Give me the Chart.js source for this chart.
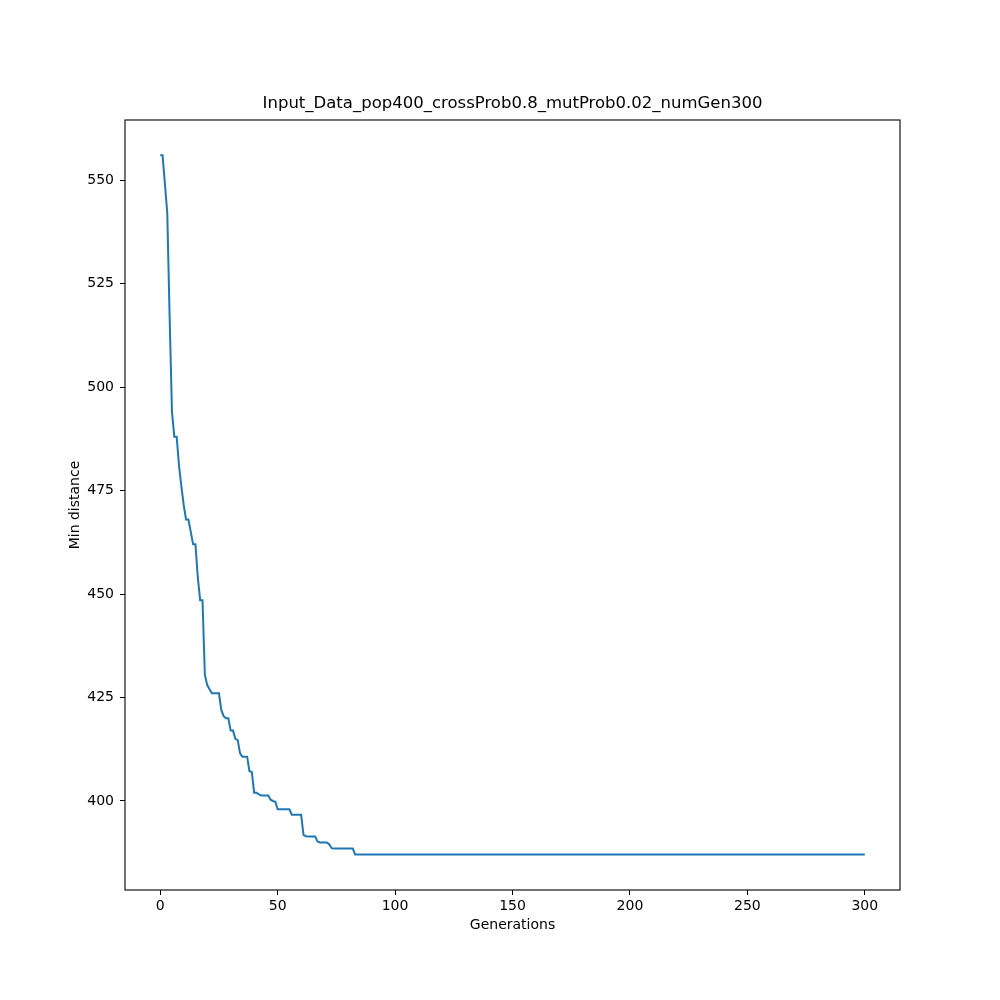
<!DOCTYPE html>
<html>
<head>
<meta charset="utf-8">
<script src="https://cdn.jsdelivr.net/npm/chart.js@4/dist/chart.umd.min.js"></script>
<style>
  html, body { margin: 0; padding: 0; background: #fff; }
  canvas { display: block; }
</style>
</head>
<body>
<canvas id="chart" width="1000" height="1000"></canvas>
<script>
// min distance per generation (index = generation 0..300)
const minDistance = [
  556, 556, 549, 542, 517, 494, 488, 488, 481, 476,
  471.5, 468, 468, 465, 462, 462, 454, 448.5, 448.5, 430.5,
  428, 427, 426, 426, 426, 426, 422, 420.5, 420, 420,
  417, 417, 415, 414.7, 411.5, 410.7, 410.7, 410.7, 407.2, 407,
  402, 402, 401.6, 401.3, 401.3, 401.3, 401.3, 400.3, 400, 399.8,
  398, 398, 398, 398, 398, 398, 396.7, 396.7, 396.7, 396.7,
  396.7, 391.8, 391.5, 391.4, 391.4, 391.4, 391.4, 390.2, 390, 390,
  390, 390, 389.5, 388.6, 388.5, 388.5, 388.5, 388.5, 388.5, 388.5,
  388.5, 388.5, 388.5,
  387.1, 387.1, 387.1, 387.1, 387.1, 387.1, 387.1, 387.1, 387.1, 387.1, 387.1, 387.1, 387.1, 387.1, 387.1, 387.1, 387.1,
  387.1, 387.1, 387.1, 387.1, 387.1, 387.1, 387.1, 387.1, 387.1, 387.1, 387.1, 387.1, 387.1, 387.1, 387.1, 387.1, 387.1, 387.1, 387.1, 387.1,
  387.1, 387.1, 387.1, 387.1, 387.1, 387.1, 387.1, 387.1, 387.1, 387.1, 387.1, 387.1, 387.1, 387.1, 387.1, 387.1, 387.1, 387.1, 387.1, 387.1,
  387.1, 387.1, 387.1, 387.1, 387.1, 387.1, 387.1, 387.1, 387.1, 387.1, 387.1, 387.1, 387.1, 387.1, 387.1, 387.1, 387.1, 387.1, 387.1, 387.1,
  387.1, 387.1, 387.1, 387.1, 387.1, 387.1, 387.1, 387.1, 387.1, 387.1, 387.1, 387.1, 387.1, 387.1, 387.1, 387.1, 387.1, 387.1, 387.1, 387.1,
  387.1, 387.1, 387.1, 387.1, 387.1, 387.1, 387.1, 387.1, 387.1, 387.1, 387.1, 387.1, 387.1, 387.1, 387.1, 387.1, 387.1, 387.1, 387.1, 387.1,
  387.1, 387.1, 387.1, 387.1, 387.1, 387.1, 387.1, 387.1, 387.1, 387.1, 387.1, 387.1, 387.1, 387.1, 387.1, 387.1, 387.1, 387.1, 387.1, 387.1,
  387.1, 387.1, 387.1, 387.1, 387.1, 387.1, 387.1, 387.1, 387.1, 387.1, 387.1, 387.1, 387.1, 387.1, 387.1, 387.1, 387.1, 387.1, 387.1, 387.1,
  387.1, 387.1, 387.1, 387.1, 387.1, 387.1, 387.1, 387.1, 387.1, 387.1, 387.1, 387.1, 387.1, 387.1, 387.1, 387.1, 387.1, 387.1, 387.1, 387.1,
  387.1, 387.1, 387.1, 387.1, 387.1, 387.1, 387.1, 387.1, 387.1, 387.1, 387.1, 387.1, 387.1, 387.1, 387.1, 387.1, 387.1, 387.1, 387.1, 387.1,
  387.1, 387.1, 387.1, 387.1, 387.1, 387.1, 387.1, 387.1, 387.1, 387.1, 387.1, 387.1, 387.1, 387.1, 387.1, 387.1, 387.1, 387.1, 387.1, 387.1,
  387.1
];
const xTicks = [0, 50, 100, 150, 200, 250, 300];
const yTicks = [400, 425, 450, 475, 500, 525, 550];
const chartTitle = "Input_Data_pop400_crossProb0.8_mutProb0.02_numGen300";

const FONT = "'DejaVu Sans', sans-serif";

// all four spines and the title, drawn like matplotlib does
const framePlugin = {
  id: "frame",
  afterDraw(chart) {
    const { ctx, chartArea: a } = chart;
    ctx.save();
    ctx.strokeStyle = "#000";
    ctx.lineWidth = 1.1;
    ctx.strokeRect(a.left, a.top, a.right - a.left, a.bottom - a.top);
    ctx.fillStyle = "#000";
    ctx.font = "16.5px " + FONT;
    ctx.textAlign = "center";
    ctx.textBaseline = "alphabetic";
    ctx.fillText(chartTitle, (a.left + a.right) / 2, a.top - 12);
    ctx.restore();
  }
};

new Chart(document.getElementById("chart"), {
  type: "line",
  data: {
    datasets: [{
      data: minDistance.map((v, i) => ({ x: i, y: v })),
      borderColor: "#1f77b4",
      borderWidth: 2,
      pointRadius: 0,
      tension: 0,
      fill: false
    }]
  },
  options: {
    responsive: false,
    animation: false,
    layout: { padding: { top: 120, right: 100, left: 0, bottom: 0 } },
    plugins: { legend: { display: false }, tooltip: { enabled: false } },
    scales: {
      x: {
        type: "linear",
        min: -15,
        max: 315,
        afterBuildTicks: s => { s.ticks = xTicks.map(v => ({ value: v })); },
        afterFit: s => { s.height = 110; },
        ticks: { color: "#000", font: { size: 14, family: FONT }, padding: 3, maxRotation: 0, autoSkip: false },
        grid: { drawOnChartArea: false, drawTicks: true, tickLength: 5, color: "#000" },
        border: { display: false },
        title: { display: true, text: "Generations", color: "#000", font: { size: 14, family: FONT }, padding: { top: 0, bottom: 66.6 } }
      },
      y: {
        type: "linear",
        min: 378.5,
        max: 564.5,
        afterBuildTicks: s => { s.ticks = yTicks.map(v => ({ value: v })); },
        afterFit: s => { s.width = 125; },
        ticks: { color: "#000", font: { size: 14, family: FONT }, padding: 6 },
        grid: { drawOnChartArea: false, drawTicks: true, tickLength: 5, color: "#000" },
        border: { display: false },
        title: { display: true, text: "Min distance", color: "#000", font: { size: 14, family: FONT }, padding: { top: 66.6, bottom: 0 } }
      }
    }
  },
  plugins: [framePlugin]
});
</script>
</body>
</html>
